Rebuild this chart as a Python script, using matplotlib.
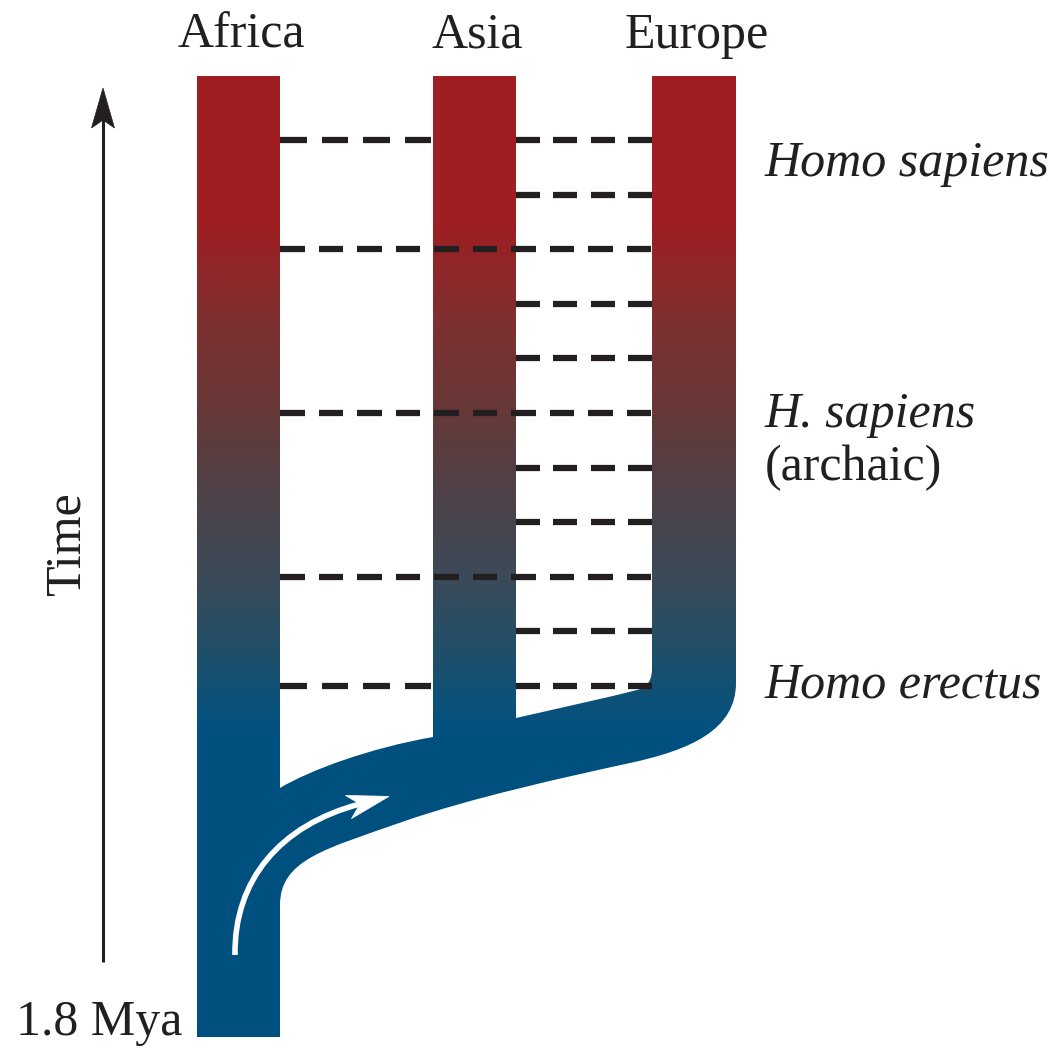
# Multiregional model of human evolution: three regional lineages with gene flow.

import numpy as np
import matplotlib.pyplot as plt
from matplotlib.path import Path
from matplotlib.patches import PathPatch, Rectangle, Polygon

# Data
regions = ["Africa", "Asia", "Europe"]
# gene flow events: time level (0 = most recent) and the two regions linked
flow_level = [0, 0, 1, 2, 3, 4, 5, 6, 7, 8, 9, 10, 10]
flow_from = ["Africa", "Asia", "Asia", "Africa", "Asia", "Asia", "Africa",
             "Asia", "Asia", "Africa", "Asia", "Africa", "Asia"]
flow_to = ["Asia", "Europe", "Europe", "Europe", "Europe", "Europe", "Europe",
           "Europe", "Europe", "Europe", "Europe", "Asia", "Europe"]
species = ["Homo sapiens", "H. sapiens", "(archaic)", "Homo erectus"]
species_style = ["italic", "italic", "normal", "italic"]
time_label = "Time"
start_label = "1.8 Mya"

# Layout (pixel space, y grows downward)
W, H = 1061, 1048
col_left = {"Africa": 197, "Asia": 433, "Europe": 652}
col_w = 83
col_top = 76
col_bottom = {"Africa": 1037, "Asia": 745, "Europe": 670}
level_y0, level_dy = 140, 54.6
species_y = [176, 427, 480, 698]
species_x = 765

ink = "#231f20"
font = "Liberation Serif"
fs = 36

# colour stops of the red -> blue gradient (y position, rgb)
grad_y = [0, 223, 321, 411, 478, 576, 656, 723, 740, H]
grad_rgb = [(158, 30, 34), (158, 30, 34), (126, 48, 48), (103, 56, 56),
            (82, 64, 69), (60, 74, 88), (30, 79, 106), (4, 82, 128),
            (0, 80, 127), (0, 80, 127)]

fig = plt.figure(figsize=(W / 100, H / 100), dpi=100)
ax = fig.add_axes([0, 0, 1, 1])
ax.set_xlim(0, W)
ax.set_ylim(H, 0)
ax.axis("off")

# gradient image, one row per pixel
ys = np.arange(H) + 0.5
rgb = np.array(grad_rgb, dtype=float) / 255
grad = np.stack([np.interp(ys, grad_y, rgb[:, k]) for k in range(3)], axis=-1)
grad = np.repeat(grad[:, None, :], W, axis=1)

# the lineage shapes
shapes = []
for r in regions:
    shapes.append(Rectangle((col_left[r], col_top), col_w + (1 if r == "Europe" else 0),
                            col_bottom[r] - col_top, transform=ax.transData))

# the branch carrying Homo erectus out of Africa
M, L, C, Z = Path.MOVETO, Path.LINETO, Path.CURVE4, Path.CLOSEPOLY
band_v = [(250, 800), (280, 788),
          (310, 770), (370, 748), (433, 737),
          (516, 718),
          (560, 708), (610, 697), (637, 690),
          (648, 687), (652, 680), (652, 668),
          (652, 650), (736, 650), (736, 683),
          (736, 730), (690, 750), (630, 763),
          (570, 776), (470, 798), (402, 822),
          (325, 849), (280, 860), (280, 905),
          (280, 915), (250, 915), (250, 800)]
band_c = [M, L, C, C, C, L, C, C, C, C, C, C, L, L, L,
          C, C, C, C, C, C, C, C, C, L, L, Z]
shapes.append(PathPatch(Path(band_v, band_c), transform=ax.transData))

for shp in shapes:
    im = ax.imshow(grad, extent=[0, W, H, 0], aspect="auto",
                   interpolation="nearest", zorder=1)
    im.set_clip_path(shp)


# gene flow dashes
def dash_segments(x0, x1, dash=24, gap=13):
    n = max(1, round((x1 - x0 + gap) / (dash + gap)))
    s = (x1 - x0 + gap) / (n * (dash + gap))
    starts = x0 + np.arange(n) * (dash + gap) * s
    return starts, starts + dash * s


for lev, a, b in zip(flow_level, flow_from, flow_to):
    y = level_y0 + level_dy * lev
    x0 = col_left[a] + col_w
    x1 = col_left[b]
    st, en = dash_segments(x0, x1)
    ax.hlines([y] * len(st), st, en, colors=ink, linewidth=4.5,
              capstyle="butt", zorder=3)

# white migration arrow
arr_v = [(235, 955), (234, 880), (280, 825), (360, 804)]
ax.add_patch(PathPatch(Path(arr_v, [M, C, C, C]), facecolor="none",
                       edgecolor="white", linewidth=4, capstyle="butt", zorder=4))
u = np.array(arr_v[3], float) - np.array(arr_v[2], float)
u /= np.hypot(*u)
nrm = np.array([-u[1], u[0]])
tip = np.array(arr_v[3], float) + 30 * u
head = [tip, tip - 42 * u + 12 * nrm, tip - 30 * u, tip - 42 * u - 12 * nrm]
ax.add_patch(Polygon(head, closed=True, facecolor="white", edgecolor="white",
                     linewidth=0.5, zorder=4))

# time arrow
ax.plot([103, 103], [962, 118], color=ink, linewidth=2.2, solid_capstyle="butt")
ax.add_patch(Polygon([(103, 88), (114.5, 128), (103, 120), (91.5, 128)],
                     closed=True, facecolor=ink, edgecolor=ink, linewidth=0.5))

# labels
for r in regions:
    ax.text(col_left[r] + col_w / 2 + 3, 48, r, ha="center", va="baseline",
            fontsize=fs, family=font, color=ink)
for s, st, y in zip(species, species_style, species_y):
    ax.text(species_x, y, s, ha="left", va="baseline", fontsize=fs,
            family=font, style=st, color=ink)
ax.text(67, 544, time_label, rotation=90, ha="center", va="center",
        fontsize=fs, family=font, color=ink)
ax.text(16, 1035, start_label, ha="left", va="baseline", fontsize=fs,
        family=font, color=ink)

fig.savefig("out.png", dpi=100, facecolor="white")
